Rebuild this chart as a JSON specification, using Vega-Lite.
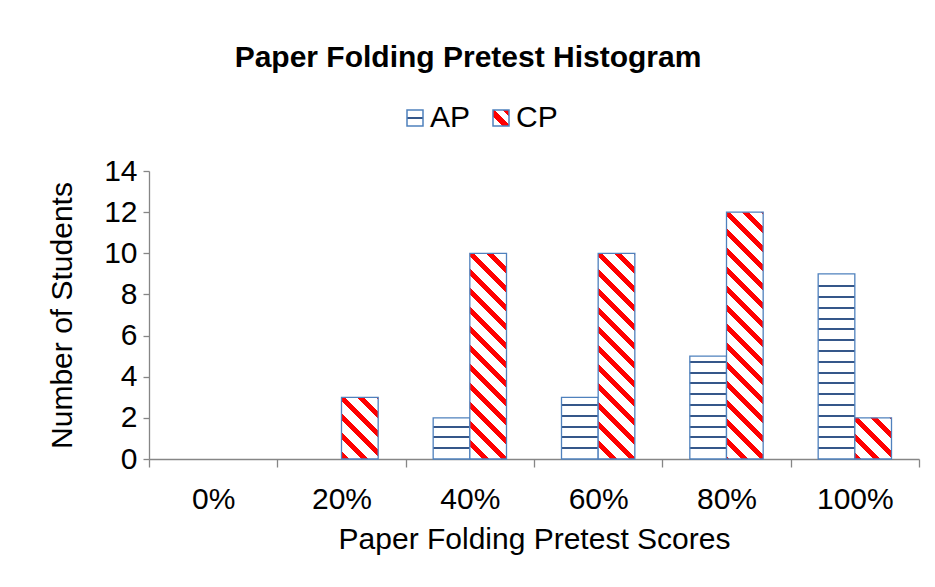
{
  "$schema": "https://vega.github.io/schema/vega-lite/v6.json",
  "autosize": {"type": "none"},
  "padding": {"left": 149, "top": 171, "right": 16, "bottom": 128},
  "width": 770,
  "height": 288,
  "background": "#ffffff",
  "title": {
    "text": "Paper Folding Pretest Histogram",
    "font": "Liberation Sans",
    "fontSize": 30,
    "fontWeight": "bold",
    "color": "#000000",
    "anchor": "middle",
    "frame": "group",
    "dx": -66,
    "offset": 30
  },
  "params": [
    {"name": "gLegAP", "value": {"gradient": "linear", "x1": 0.5, "y1": 0, "x2": 0.5, "y2": 1, "stops": [
      {"offset": 0.42, "color": "#ffffff"}, {"offset": 0.42, "color": "#35578a"}, {"offset": 0.58, "color": "#35578a"}, {"offset": 0.58, "color": "#ffffff"}
    ]}},
    {"name": "gLegCP", "value": {"gradient": "linear", "x1": 0, "y1": 1, "x2": 1, "y2": 0, "stops": [
      {"offset": 0.3, "color": "#ffffff"}, {"offset": 0.3, "color": "#ff0000"}, {"offset": 0.55, "color": "#ff0000"}, {"offset": 0.55, "color": "#ffffff"}, {"offset": 0.8, "color": "#ffffff"}, {"offset": 0.8, "color": "#ff0000"}
    ]}},
    {"name": "gAP2", "value": {"gradient": "linear", "x1": 0.5, "y1": 1, "x2": 0.5, "y2": 0, "stops": [
      {"offset": 0.2382, "color": "#ffffff"}, {"offset": 0.2382, "color": "#35578a"}, {"offset": 0.2868, "color": "#35578a"}, {"offset": 0.2868, "color": "#ffffff"},
      {"offset": 0.5007, "color": "#ffffff"}, {"offset": 0.5007, "color": "#35578a"}, {"offset": 0.5493, "color": "#35578a"}, {"offset": 0.5493, "color": "#ffffff"},
      {"offset": 0.7632, "color": "#ffffff"}, {"offset": 0.7632, "color": "#35578a"}, {"offset": 0.8119, "color": "#35578a"}, {"offset": 0.8119, "color": "#ffffff"}
    ]}},
    {"name": "gAP3", "value": {"gradient": "linear", "x1": 0.5, "y1": 1, "x2": 0.5, "y2": 0, "stops": [
      {"offset": 0.1588, "color": "#ffffff"}, {"offset": 0.1588, "color": "#35578a"}, {"offset": 0.1912, "color": "#35578a"}, {"offset": 0.1912, "color": "#ffffff"},
      {"offset": 0.3338, "color": "#ffffff"}, {"offset": 0.3338, "color": "#35578a"}, {"offset": 0.3662, "color": "#35578a"}, {"offset": 0.3662, "color": "#ffffff"},
      {"offset": 0.5088, "color": "#ffffff"}, {"offset": 0.5088, "color": "#35578a"}, {"offset": 0.5412, "color": "#35578a"}, {"offset": 0.5412, "color": "#ffffff"},
      {"offset": 0.6839, "color": "#ffffff"}, {"offset": 0.6839, "color": "#35578a"}, {"offset": 0.7163, "color": "#35578a"}, {"offset": 0.7163, "color": "#ffffff"},
      {"offset": 0.8589, "color": "#ffffff"}, {"offset": 0.8589, "color": "#35578a"}, {"offset": 0.8913, "color": "#35578a"}, {"offset": 0.8913, "color": "#ffffff"}
    ]}},
    {"name": "gAP5", "value": {"gradient": "linear", "x1": 0.5, "y1": 1, "x2": 0.5, "y2": 0, "stops": [
      {"offset": 0.0953, "color": "#ffffff"}, {"offset": 0.0953, "color": "#35578a"}, {"offset": 0.1147, "color": "#35578a"}, {"offset": 0.1147, "color": "#ffffff"},
      {"offset": 0.2003, "color": "#ffffff"}, {"offset": 0.2003, "color": "#35578a"}, {"offset": 0.2197, "color": "#35578a"}, {"offset": 0.2197, "color": "#ffffff"},
      {"offset": 0.3053, "color": "#ffffff"}, {"offset": 0.3053, "color": "#35578a"}, {"offset": 0.3247, "color": "#35578a"}, {"offset": 0.3247, "color": "#ffffff"},
      {"offset": 0.4103, "color": "#ffffff"}, {"offset": 0.4103, "color": "#35578a"}, {"offset": 0.4297, "color": "#35578a"}, {"offset": 0.4297, "color": "#ffffff"},
      {"offset": 0.5153, "color": "#ffffff"}, {"offset": 0.5153, "color": "#35578a"}, {"offset": 0.5347, "color": "#35578a"}, {"offset": 0.5347, "color": "#ffffff"},
      {"offset": 0.6203, "color": "#ffffff"}, {"offset": 0.6203, "color": "#35578a"}, {"offset": 0.6397, "color": "#35578a"}, {"offset": 0.6397, "color": "#ffffff"},
      {"offset": 0.7253, "color": "#ffffff"}, {"offset": 0.7253, "color": "#35578a"}, {"offset": 0.7447, "color": "#35578a"}, {"offset": 0.7447, "color": "#ffffff"},
      {"offset": 0.8303, "color": "#ffffff"}, {"offset": 0.8303, "color": "#35578a"}, {"offset": 0.8497, "color": "#35578a"}, {"offset": 0.8497, "color": "#ffffff"},
      {"offset": 0.9353, "color": "#ffffff"}, {"offset": 0.9353, "color": "#35578a"}, {"offset": 0.9547, "color": "#35578a"}, {"offset": 0.9547, "color": "#ffffff"}
    ]}},
    {"name": "gAP9", "value": {"gradient": "linear", "x1": 0.5, "y1": 1, "x2": 0.5, "y2": 0, "stops": [
      {"offset": 0.0529, "color": "#ffffff"}, {"offset": 0.0529, "color": "#35578a"}, {"offset": 0.0637, "color": "#35578a"}, {"offset": 0.0637, "color": "#ffffff"},
      {"offset": 0.1113, "color": "#ffffff"}, {"offset": 0.1113, "color": "#35578a"}, {"offset": 0.1221, "color": "#35578a"}, {"offset": 0.1221, "color": "#ffffff"},
      {"offset": 0.1696, "color": "#ffffff"}, {"offset": 0.1696, "color": "#35578a"}, {"offset": 0.1804, "color": "#35578a"}, {"offset": 0.1804, "color": "#ffffff"},
      {"offset": 0.2279, "color": "#ffffff"}, {"offset": 0.2279, "color": "#35578a"}, {"offset": 0.2387, "color": "#35578a"}, {"offset": 0.2387, "color": "#ffffff"},
      {"offset": 0.2863, "color": "#ffffff"}, {"offset": 0.2863, "color": "#35578a"}, {"offset": 0.2971, "color": "#35578a"}, {"offset": 0.2971, "color": "#ffffff"},
      {"offset": 0.3446, "color": "#ffffff"}, {"offset": 0.3446, "color": "#35578a"}, {"offset": 0.3554, "color": "#35578a"}, {"offset": 0.3554, "color": "#ffffff"},
      {"offset": 0.4029, "color": "#ffffff"}, {"offset": 0.4029, "color": "#35578a"}, {"offset": 0.4137, "color": "#35578a"}, {"offset": 0.4137, "color": "#ffffff"},
      {"offset": 0.4613, "color": "#ffffff"}, {"offset": 0.4613, "color": "#35578a"}, {"offset": 0.4721, "color": "#35578a"}, {"offset": 0.4721, "color": "#ffffff"},
      {"offset": 0.5196, "color": "#ffffff"}, {"offset": 0.5196, "color": "#35578a"}, {"offset": 0.5304, "color": "#35578a"}, {"offset": 0.5304, "color": "#ffffff"},
      {"offset": 0.5779, "color": "#ffffff"}, {"offset": 0.5779, "color": "#35578a"}, {"offset": 0.5887, "color": "#35578a"}, {"offset": 0.5887, "color": "#ffffff"},
      {"offset": 0.6363, "color": "#ffffff"}, {"offset": 0.6363, "color": "#35578a"}, {"offset": 0.6471, "color": "#35578a"}, {"offset": 0.6471, "color": "#ffffff"},
      {"offset": 0.6946, "color": "#ffffff"}, {"offset": 0.6946, "color": "#35578a"}, {"offset": 0.7054, "color": "#35578a"}, {"offset": 0.7054, "color": "#ffffff"},
      {"offset": 0.7529, "color": "#ffffff"}, {"offset": 0.7529, "color": "#35578a"}, {"offset": 0.7637, "color": "#35578a"}, {"offset": 0.7637, "color": "#ffffff"},
      {"offset": 0.8113, "color": "#ffffff"}, {"offset": 0.8113, "color": "#35578a"}, {"offset": 0.8221, "color": "#35578a"}, {"offset": 0.8221, "color": "#ffffff"},
      {"offset": 0.8696, "color": "#ffffff"}, {"offset": 0.8696, "color": "#35578a"}, {"offset": 0.8804, "color": "#35578a"}, {"offset": 0.8804, "color": "#ffffff"},
      {"offset": 0.9279, "color": "#ffffff"}, {"offset": 0.9279, "color": "#35578a"}, {"offset": 0.9387, "color": "#35578a"}, {"offset": 0.9387, "color": "#ffffff"}
    ]}},
    {"name": "gCP2", "value": {"gradient": "linear", "x1": 0, "y1": 1, "x2": 0.9394, "y2": -0.054, "stops": [
      {"offset": 0, "color": "#ff0000"}, {"offset": 0.0853, "color": "#ff0000"}, {"offset": 0.0853, "color": "#ffffff"},
      {"offset": 0.2396, "color": "#ffffff"}, {"offset": 0.2396, "color": "#ff0000"}, {"offset": 0.3295, "color": "#ff0000"}, {"offset": 0.3295, "color": "#ffffff"},
      {"offset": 0.4837, "color": "#ffffff"}, {"offset": 0.4837, "color": "#ff0000"}, {"offset": 0.5737, "color": "#ff0000"}, {"offset": 0.5737, "color": "#ffffff"},
      {"offset": 0.7279, "color": "#ffffff"}, {"offset": 0.7279, "color": "#ff0000"}, {"offset": 0.8179, "color": "#ff0000"}, {"offset": 0.8179, "color": "#ffffff"},
      {"offset": 0.9721, "color": "#ffffff"}, {"offset": 0.9721, "color": "#ff0000"}, {"offset": 1, "color": "#ff0000"}
    ]}},
    {"name": "gCP3", "value": {"gradient": "linear", "x1": 0, "y1": 1, "x2": 0.7001, "y2": -0.1782, "stops": [
      {"offset": 0.0123, "color": "#ffffff"}, {"offset": 0.0123, "color": "#ff0000"}, {"offset": 0.0835, "color": "#ff0000"}, {"offset": 0.0835, "color": "#ffffff"},
      {"offset": 0.2054, "color": "#ffffff"}, {"offset": 0.2054, "color": "#ff0000"}, {"offset": 0.2766, "color": "#ff0000"}, {"offset": 0.2766, "color": "#ffffff"},
      {"offset": 0.3986, "color": "#ffffff"}, {"offset": 0.3986, "color": "#ff0000"}, {"offset": 0.4697, "color": "#ff0000"}, {"offset": 0.4697, "color": "#ffffff"},
      {"offset": 0.5917, "color": "#ffffff"}, {"offset": 0.5917, "color": "#ff0000"}, {"offset": 0.6628, "color": "#ff0000"}, {"offset": 0.6628, "color": "#ffffff"},
      {"offset": 0.7848, "color": "#ffffff"}, {"offset": 0.7848, "color": "#ff0000"}, {"offset": 0.856, "color": "#ff0000"}, {"offset": 0.856, "color": "#ffffff"},
      {"offset": 0.9779, "color": "#ffffff"}, {"offset": 0.9779, "color": "#ff0000"}, {"offset": 1, "color": "#ff0000"}
    ]}},
    {"name": "gCP10", "value": {"gradient": "linear", "x1": 0, "y1": 1, "x2": 0.2036, "y2": -0.142, "stops": [
      {"offset": 0.0504, "color": "#ffffff"}, {"offset": 0.0504, "color": "#ff0000"}, {"offset": 0.0793, "color": "#ff0000"}, {"offset": 0.0793, "color": "#ffffff"},
      {"offset": 0.1288, "color": "#ffffff"}, {"offset": 0.1288, "color": "#ff0000"}, {"offset": 0.1576, "color": "#ff0000"}, {"offset": 0.1576, "color": "#ffffff"},
      {"offset": 0.2072, "color": "#ffffff"}, {"offset": 0.2072, "color": "#ff0000"}, {"offset": 0.236, "color": "#ff0000"}, {"offset": 0.236, "color": "#ffffff"},
      {"offset": 0.2855, "color": "#ffffff"}, {"offset": 0.2855, "color": "#ff0000"}, {"offset": 0.3144, "color": "#ff0000"}, {"offset": 0.3144, "color": "#ffffff"},
      {"offset": 0.3639, "color": "#ffffff"}, {"offset": 0.3639, "color": "#ff0000"}, {"offset": 0.3928, "color": "#ff0000"}, {"offset": 0.3928, "color": "#ffffff"},
      {"offset": 0.4423, "color": "#ffffff"}, {"offset": 0.4423, "color": "#ff0000"}, {"offset": 0.4712, "color": "#ff0000"}, {"offset": 0.4712, "color": "#ffffff"},
      {"offset": 0.5207, "color": "#ffffff"}, {"offset": 0.5207, "color": "#ff0000"}, {"offset": 0.5496, "color": "#ff0000"}, {"offset": 0.5496, "color": "#ffffff"},
      {"offset": 0.5991, "color": "#ffffff"}, {"offset": 0.5991, "color": "#ff0000"}, {"offset": 0.628, "color": "#ff0000"}, {"offset": 0.628, "color": "#ffffff"},
      {"offset": 0.6775, "color": "#ffffff"}, {"offset": 0.6775, "color": "#ff0000"}, {"offset": 0.7064, "color": "#ff0000"}, {"offset": 0.7064, "color": "#ffffff"},
      {"offset": 0.7559, "color": "#ffffff"}, {"offset": 0.7559, "color": "#ff0000"}, {"offset": 0.7848, "color": "#ff0000"}, {"offset": 0.7848, "color": "#ffffff"},
      {"offset": 0.8343, "color": "#ffffff"}, {"offset": 0.8343, "color": "#ff0000"}, {"offset": 0.8632, "color": "#ff0000"}, {"offset": 0.8632, "color": "#ffffff"},
      {"offset": 0.9127, "color": "#ffffff"}, {"offset": 0.9127, "color": "#ff0000"}, {"offset": 0.9415, "color": "#ff0000"}, {"offset": 0.9415, "color": "#ffffff"},
      {"offset": 0.991, "color": "#ffffff"}, {"offset": 0.991, "color": "#ff0000"}, {"offset": 1, "color": "#ff0000"}
    ]}},
    {"name": "gCP12", "value": {"gradient": "linear", "x1": 0, "y1": 1, "x2": 0.1669, "y2": -0.1238, "stops": [
      {"offset": 0, "color": "#ff0000"}, {"offset": 0.0119, "color": "#ff0000"}, {"offset": 0.0119, "color": "#ffffff"},
      {"offset": 0.0542, "color": "#ffffff"}, {"offset": 0.0542, "color": "#ff0000"}, {"offset": 0.0789, "color": "#ff0000"}, {"offset": 0.0789, "color": "#ffffff"},
      {"offset": 0.1212, "color": "#ffffff"}, {"offset": 0.1212, "color": "#ff0000"}, {"offset": 0.1459, "color": "#ff0000"}, {"offset": 0.1459, "color": "#ffffff"},
      {"offset": 0.1882, "color": "#ffffff"}, {"offset": 0.1882, "color": "#ff0000"}, {"offset": 0.2129, "color": "#ff0000"}, {"offset": 0.2129, "color": "#ffffff"},
      {"offset": 0.2552, "color": "#ffffff"}, {"offset": 0.2552, "color": "#ff0000"}, {"offset": 0.2799, "color": "#ff0000"}, {"offset": 0.2799, "color": "#ffffff"},
      {"offset": 0.3222, "color": "#ffffff"}, {"offset": 0.3222, "color": "#ff0000"}, {"offset": 0.3469, "color": "#ff0000"}, {"offset": 0.3469, "color": "#ffffff"},
      {"offset": 0.3892, "color": "#ffffff"}, {"offset": 0.3892, "color": "#ff0000"}, {"offset": 0.4139, "color": "#ff0000"}, {"offset": 0.4139, "color": "#ffffff"},
      {"offset": 0.4563, "color": "#ffffff"}, {"offset": 0.4563, "color": "#ff0000"}, {"offset": 0.4809, "color": "#ff0000"}, {"offset": 0.4809, "color": "#ffffff"},
      {"offset": 0.5233, "color": "#ffffff"}, {"offset": 0.5233, "color": "#ff0000"}, {"offset": 0.548, "color": "#ff0000"}, {"offset": 0.548, "color": "#ffffff"},
      {"offset": 0.5903, "color": "#ffffff"}, {"offset": 0.5903, "color": "#ff0000"}, {"offset": 0.615, "color": "#ff0000"}, {"offset": 0.615, "color": "#ffffff"},
      {"offset": 0.6573, "color": "#ffffff"}, {"offset": 0.6573, "color": "#ff0000"}, {"offset": 0.682, "color": "#ff0000"}, {"offset": 0.682, "color": "#ffffff"},
      {"offset": 0.7243, "color": "#ffffff"}, {"offset": 0.7243, "color": "#ff0000"}, {"offset": 0.749, "color": "#ff0000"}, {"offset": 0.749, "color": "#ffffff"},
      {"offset": 0.7913, "color": "#ffffff"}, {"offset": 0.7913, "color": "#ff0000"}, {"offset": 0.816, "color": "#ff0000"}, {"offset": 0.816, "color": "#ffffff"},
      {"offset": 0.8583, "color": "#ffffff"}, {"offset": 0.8583, "color": "#ff0000"}, {"offset": 0.883, "color": "#ff0000"}, {"offset": 0.883, "color": "#ffffff"},
      {"offset": 0.9253, "color": "#ffffff"}, {"offset": 0.9253, "color": "#ff0000"}, {"offset": 0.95, "color": "#ff0000"}, {"offset": 0.95, "color": "#ffffff"},
      {"offset": 0.9924, "color": "#ffffff"}, {"offset": 0.9924, "color": "#ff0000"}, {"offset": 1, "color": "#ff0000"}
    ]}}
  ],
  "data": {
    "values": [
      {"score": "0%", "series": "AP", "count": 0},
      {"score": "0%", "series": "CP", "count": 0},
      {"score": "20%", "series": "AP", "count": 0},
      {"score": "20%", "series": "CP", "count": 3},
      {"score": "40%", "series": "AP", "count": 2},
      {"score": "40%", "series": "CP", "count": 10},
      {"score": "60%", "series": "AP", "count": 3},
      {"score": "60%", "series": "CP", "count": 10},
      {"score": "80%", "series": "AP", "count": 5},
      {"score": "80%", "series": "CP", "count": 12},
      {"score": "100%", "series": "AP", "count": 9},
      {"score": "100%", "series": "CP", "count": 2}
    ]
  },
  "transform": [{"filter": "datum.count > 0"}],
  "mark": {"type": "bar", "strokeWidth": 1.3},
  "encoding": {
    "x": {
      "field": "score",
      "type": "nominal",
      "sort": null,
      "title": "Paper Folding Pretest Scores",
      "scale": {"domain": ["0%", "20%", "40%", "60%", "80%", "100%"], "paddingInner": 0, "paddingOuter": 0},
      "axis": {"labelAngle": 0, "tickBand": "extent", "tickSize": 8, "labelPadding": 17, "titlePadding": 10}
    },
    "xOffset": {
      "field": "series",
      "type": "nominal",
      "scale": {"domain": ["AP", "CP"], "paddingInner": 0, "paddingOuter": 0.75}
    },
    "y": {
      "field": "count",
      "type": "quantitative",
      "title": "Number of Students",
      "scale": {"domain": [0, 14], "nice": false},
      "axis": {"values": [0, 2, 4, 6, 8, 10, 12, 14], "tickSize": 6, "labelPadding": 6, "titlePadding": 26}
    },
    "fill": {
      "value": {"expr": "datum.value === 'AP' ? gLegAP : datum.value === 'CP' ? gLegCP : datum.series === 'AP' ? (datum.count === 2 ? gAP2 : datum.count === 3 ? gAP3 : datum.count === 5 ? gAP5 : gAP9) : (datum.count === 2 ? gCP2 : datum.count === 3 ? gCP3 : datum.count === 10 ? gCP10 : gCP12)"}
    },
    "stroke": {
      "field": "series",
      "type": "nominal",
      "scale": {"domain": ["AP", "CP"], "range": ["#4f81bd", "#4f81bd"]},
      "legend": {
        "orient": "none",
        "legendX": 251,
        "legendY": -68,
        "direction": "horizontal",
        "title": null,
        "labelFont": "Liberation Sans",
        "labelFontSize": 30,
        "labelColor": "#000000",
        "labelOffset": 0,
        "columnPadding": 15,
        "symbolType": "square",
        "symbolSize": 256,
        "symbolStrokeWidth": 1.5
      }
    }
  },
  "config": {
    "font": "Liberation Sans",
    "view": {"stroke": null},
    "axis": {
      "labelFont": "Liberation Sans",
      "titleFont": "Liberation Sans",
      "labelFontSize": 30,
      "titleFontSize": 30,
      "titleFontWeight": "normal",
      "labelColor": "#000000",
      "titleColor": "#000000",
      "domainColor": "#868686",
      "tickColor": "#868686",
      "domainWidth": 1.3,
      "tickWidth": 1.3,
      "grid": false
    }
  }
}
